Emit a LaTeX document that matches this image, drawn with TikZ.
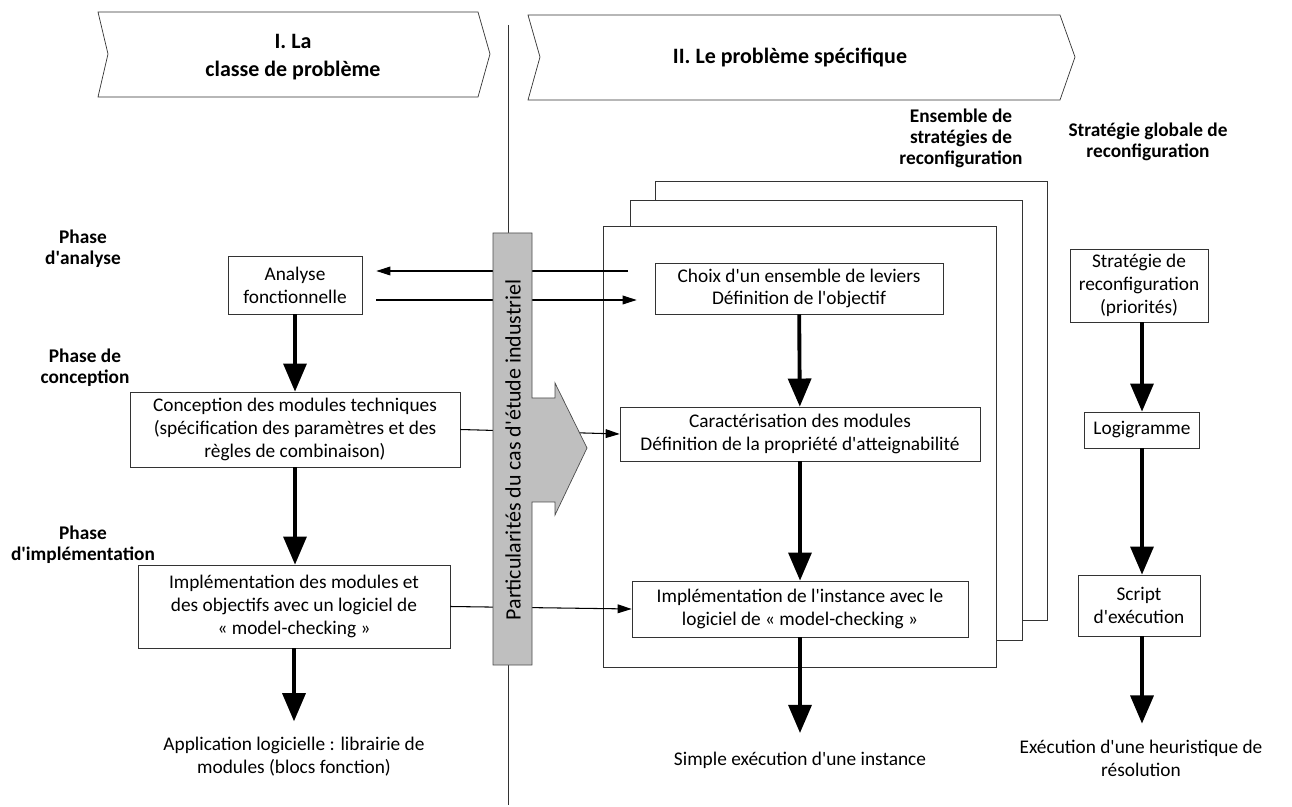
\documentclass[tikz,border=0pt]{standalone}
\usepackage{fontspec}
\setmainfont{Carlito}
\usetikzlibrary{arrows.meta}
\colorlet{Bar}{black!25}
\newcommand{\ap}{\textquotesingle}

\begin{document}
\begin{tikzpicture}[x=0.02cm,y=-0.02cm,
  box/.style={rectangle,draw=black!80,fill=white,align=center,inner sep=0pt,font=\fontsize{11}{13}\selectfont},
  frame/.style={draw=black!80,fill=white},
  label/.style={align=center,font=\fontsize{11}{13}\selectfont},
  phase/.style={align=center,font=\bfseries\fontsize{11}{12}\selectfont},
  title/.style={align=center,font=\bfseries\fontsize{12.5}{16}\selectfont},
  bigarrow/.style={line width=2.2pt,-{Triangle[width=13pt,length=16pt]}},
  thinarrow/.style={line width=0.6pt,-{Triangle[width=5pt,length=8pt]}}
]
\useasboundingbox (0,0) rectangle (1292,807);

% chevrons
\draw[draw=black!80] (98,12) -- (478,12) -- (490,54) -- (478,97) -- (98,97) -- (108,54) -- cycle;
\draw[draw=black!80] (528,15) -- (1060,15) -- (1075,57) -- (1060,100) -- (528,100) -- (540,57) -- cycle;
\node[title] (classe) at (293,57) {I. La\\classe de problème};
\node[title] (specif) at (790,58) {II. Le problème spécifique};

\draw[black!80] (508,25) -- (508,805);

\node[phase] (ensemble) at (961,138) {Ensemble de\\stratégies de\\reconfiguration};
\node[phase] (globale) at (1148,142) {Stratégie globale de\\reconfiguration};

% strategies stack
\draw[frame] (655,181) rectangle (1047,620);
\draw[frame] (630,200) rectangle (1022,640);
\draw[frame] (603,226) rectangle (996,667);

% left column
\node[phase] (ph-ana) at (83,249) {Phase\\d\ap analyse};
\node[phase] (ph-con) at (85,368) {Phase de\\conception};
\node[phase] (ph-imp) at (83,545) {Phase\\d\ap implémentation};

\node[box,minimum width=2.68cm,minimum height=1.16cm] (analyse) at (295,285) {Analyse\\fonctionnelle};
\node[box,minimum width=6.6cm,minimum height=1.5cm] (concept) at (295,429.5) {Conception des modules techniques\\(spécification des paramètres et des\\règles de combinaison)};
\node[box,minimum width=6.24cm,minimum height=1.66cm] (impl) at (294,606.5) {Implémentation des modules et\\des objectifs avec un logiciel de\\« model-checking »};
\node[label] (appl) at (294,757) {Application logicielle : librairie de\\modules (blocs fonction)};

% middle column
\node[box,minimum width=5.76cm,minimum height=1.02cm] (choix) at (799,288.5) {Choix d\ap un ensemble de leviers\\Définition de l\ap objectif};
\node[box,minimum width=7.2cm,minimum height=1.08cm] (caract) at (800,434) {Caractérisation des modules\\Définition de la propriété d\ap atteignabilité};
\node[box,minimum width=6.72cm,minimum height=1.12cm] (inst) at (800,609) {Implémentation de l\ap instance avec le\\logiciel de « model-checking »};
\node[label] (simple) at (800,760) {Simple exécution d\ap une instance};

% right column
\node[box,minimum width=2.76cm,minimum height=1.46cm] (strat) at (1139,285.5) {Stratégie de\\reconfiguration\\(priorités)};
\node[box,minimum width=2.3cm,minimum height=0.72cm] (logi) at (1142,430) {Logigramme};
\node[box,minimum width=2.44cm,minimum height=1.22cm] (script) at (1139,605.5) {Script\\d\ap exécution};
\node[label] (heur) at (1141,758) {Exécution d\ap une heuristique de\\résolution};

\draw[bigarrow] (analyse) -- (concept);
\draw[bigarrow] (concept.south) -- (concept.south |- impl.north);
\draw[bigarrow,shorten >=0.2cm] (impl) -- (appl);
\draw[bigarrow] (choix) -- (caract);
\draw[bigarrow] (caract) -- (inst);
\draw[bigarrow,shorten >=0.25cm] (inst) -- (simple);
\draw[bigarrow] (strat.south -| logi) -- (logi);
\draw[bigarrow] (logi) -- (logi |- script.north);
\draw[bigarrow,shorten >=0.2cm] (logi |- script.south) -- (logi |- heur.north);

% links across the case study
\coordinate (from-choix) at (628,271);
\draw[thinarrow,shorten >=0.28cm] (from-choix) -- (analyse.east |- from-choix);
\draw[thinarrow,shorten <=0.28cm,shorten >=0.36cm] ([yshift=-0.3cm]analyse.east) -- ([yshift=-0.3cm]analyse.east -| choix.west);
\draw[thinarrow] (concept.east) -- (caract.west);
\draw[thinarrow] (impl.east) -- (inst.west);

% case study bar
\draw[draw=black!70,fill=Bar] (493,233) -- (532,233) -- (532,398) -- (555,398) -- (555,383) -- (587,448)
  -- (555,515) -- (555,502) -- (532,502) -- (532,665) -- (493,665) -- cycle;
\node[rotate=90,font=\fontsize{12.5}{14}\selectfont] (cas) at (513,450) {Particularités du cas d\ap étude industriel};
\end{tikzpicture}
\end{document}
